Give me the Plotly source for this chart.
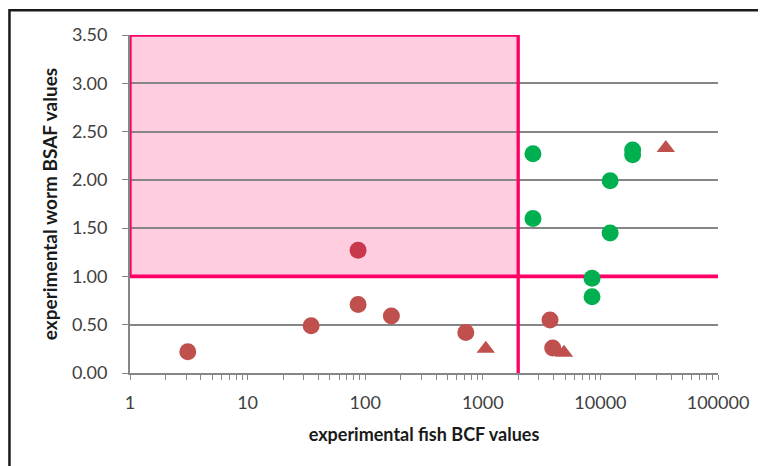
import plotly.graph_objects as go

# ---- data ----
red_circle_bcf = [3.1, 34.7, 87, 167, 717, 3730, 3930]
red_circle_bsaf = [0.22, 0.49, 0.71, 0.59, 0.42, 0.55, 0.26]

box_circle_bcf = [87]
box_circle_bsaf = [1.27]

red_tri_bcf = [1060, 4900, 36000]
red_tri_bsaf = [0.25, 0.21, 2.33]

green_bcf = [2670, 2670, 12100, 12100, 8490, 8490, 18800, 18800]
green_bsaf = [2.27, 1.60, 1.99, 1.45, 0.98, 0.79, 2.31, 2.26]

bcf_threshold = 2000
bsaf_threshold = 1.0
y_max = 3.5

x_tickvals = [m * 10 ** d for d in range(5) for m in range(1, 10)] + [100000]
x_ticktext = [str(m * 10 ** d) if m == 1 else "" for d in range(5) for m in range(1, 10)] + ["100000"]
y_tickvals = [0, 0.5, 1.0, 1.5, 2.0, 2.5, 3.0, 3.5]

RED = "#C0504D"
BOX_RED = "#C9374C"
GREEN = "#00B050"
PINK_LINE = "#FF0066"
PINK_FILL = "#FFCCE0"
GRID = "#868686"
FONT = "Lato"

fig = go.Figure()

# threshold lines (traces so they sit above gridlines)
line_style = dict(color=PINK_LINE, width=3.3)
fig.add_trace(go.Scatter(x=[bcf_threshold, bcf_threshold], y=[0, y_max], mode="lines",
                         line=line_style, hoverinfo="skip", showlegend=False))
fig.add_trace(go.Scatter(x=[1, bcf_threshold], y=[y_max, y_max], mode="lines",
                         line=line_style, hoverinfo="skip", showlegend=False))
fig.add_trace(go.Scatter(x=[1, 1], y=[bsaf_threshold, y_max], mode="lines",
                         line=line_style, hoverinfo="skip", showlegend=False))
fig.add_trace(go.Scatter(x=[1, 100000], y=[bsaf_threshold, bsaf_threshold], mode="lines",
                         line=dict(color=PINK_LINE, width=3.8), hoverinfo="skip", showlegend=False))

fig.add_trace(go.Scatter(x=red_circle_bcf, y=red_circle_bsaf, mode="markers",
                         marker=dict(symbol="circle", size=17, color=RED), showlegend=False))
fig.add_trace(go.Scatter(x=box_circle_bcf, y=box_circle_bsaf, mode="markers",
                         marker=dict(symbol="circle", size=17, color=BOX_RED), showlegend=False))
fig.add_trace(go.Scatter(x=red_tri_bcf, y=red_tri_bsaf, mode="markers",
                         marker=dict(symbol="triangle-up", size=16, color=RED), showlegend=False))
fig.add_trace(go.Scatter(x=green_bcf, y=green_bsaf, mode="markers",
                         marker=dict(symbol="circle", size=17, color=GREEN), showlegend=False))

# pink region
fig.add_shape(type="rect", xref="x", yref="y", x0=1, x1=bcf_threshold,
              y0=bsaf_threshold, y1=y_max, fillcolor=PINK_FILL, line_width=0, layer="below")

# outer frame
fig.add_shape(type="rect", xref="paper", yref="paper", x0=-0.205, x1=1.2, y0=-0.4, y1=1.073,
              line=dict(color="#1a1a1a", width=2.5), fillcolor="rgba(0,0,0,0)", layer="above")

fig.update_layout(
    width=758, height=458,
    margin=dict(l=122, r=48, t=27, b=93),
    paper_bgcolor="white", plot_bgcolor="white",
    font=dict(family=FONT, size=18, color="#404040"),
    xaxis=dict(
        type="log", range=[0, 5],
        tickvals=x_tickvals, ticktext=x_ticktext,
        ticks="outside", ticklen=5, tickcolor=GRID, tickwidth=1.4,
        showline=True, linecolor=GRID, linewidth=1.8,
        showgrid=False, zeroline=False,
        ticklabelstandoff=7,
        tickfont=dict(size=18, color="#404040"),
        title=dict(text="<b>experimental fish BCF values</b>",
                   font=dict(size=18, color="#1a1a1a"), standoff=17),
    ),
    yaxis=dict(
        range=[0, y_max], tickvals=y_tickvals, tickformat=".2f",
        ticks="outside", ticklen=6, tickcolor=GRID, tickwidth=1.4,
        showline=True, linecolor=GRID, linewidth=1.8,
        showgrid=True, gridcolor=GRID, gridwidth=1.6,
        zeroline=False,
        ticklabelstandoff=11,
        tickfont=dict(size=18, color="#404040"),
        title=dict(text="<b>experimental worm BSAF values</b>",
                   font=dict(size=19, color="#1a1a1a"), standoff=9),
    ),
)

fig.write_html("out.html")
